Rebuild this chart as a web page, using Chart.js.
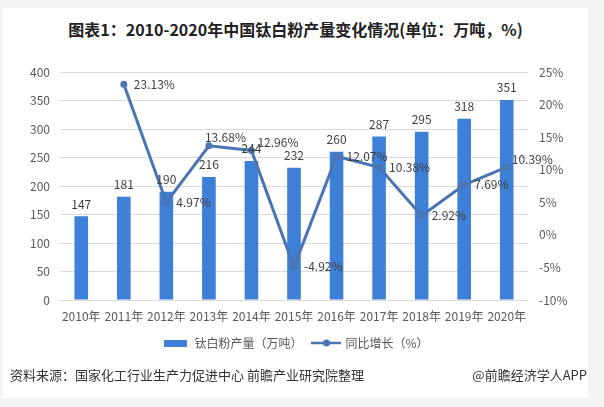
<!DOCTYPE html>
<html>
<head>
<meta charset="utf-8">
<script src="https://cdn.jsdelivr.net/npm/chart.js@4/dist/chart.umd.min.js"></script>
<style>
  html, body { margin: 0; padding: 0; background: #f4f4f4; width: 604px; height: 407px; overflow: hidden; }
  #card { position: absolute; left: 3px; top: 8px; width: 585px; height: 390px; background: #ffffff; }
  #title { position: absolute; left: 3px; width: 585px; top: 18px; text-align: center;
    font-family: "Noto Sans CJK SC", sans-serif; font-weight: bold; font-size: 16px; color: #222; line-height: 22px; white-space: nowrap; }
  #wrap { position: absolute; left: 0; top: 0; width: 604px; height: 407px; }
  .src { position: absolute; top: 366px; font-family: "Noto Sans CJK SC", sans-serif; font-size: 13px; color: #333; line-height: 18px; white-space: nowrap; }
</style>
</head>
<body>
<div id="card"></div>
<div id="title">图表1：2010-2020年中国钛白粉产量变化情况(单位：万吨，%)</div>
<div id="wrap"><canvas id="c" width="604" height="407"></canvas></div>
<div class="src" style="left:10px;">资料来源：国家化工行业生产力促进中心 前瞻产业研究院整理</div>
<div class="src" style="right:17px;">@前瞻经济学人APP</div>
<script>
const categories = ['2010年','2011年','2012年','2013年','2014年','2015年','2016年','2017年','2018年','2019年','2020年'];
const output = [147, 181, 190, 216, 244, 232, 260, 287, 295, 318, 351];
const growth = [null, 23.13, 4.97, 13.68, 12.96, -4.92, 12.07, 10.38, 2.92, 7.69, 10.39];
const seriesNames = ['钛白粉产量（万吨）', '同比增长（%）'];

const BAR = '#3e7fd7';
const LINE = '#4a74b2';
const FONT = '"Noto Sans CJK SC", sans-serif';

// label offsets for the growth labels (style only)
const lineLabelStyle = { default: { dx: 10, dy: 0 }, 3: { dx: -4, dy: -8 }, 4: { dx: 6, dy: -8 }, 10: { dx: 5, dy: -8 } };

function makeSwatch(kind) {
  const cv = document.createElement('canvas');
  if (kind === 'bar') {
    cv.width = 23; cv.height = 7;
    const x = cv.getContext('2d');
    x.fillStyle = BAR; x.fillRect(0, 0, 23, 7);
  } else {
    cv.width = 30; cv.height = 8;
    const x = cv.getContext('2d');
    x.strokeStyle = LINE; x.lineWidth = 2.5;
    x.beginPath(); x.moveTo(0, 4); x.lineTo(30, 4); x.stroke();
    x.fillStyle = LINE; x.beginPath(); x.arc(15, 4, 3.5, 0, Math.PI * 2); x.fill();
  }
  return cv;
}
const swatches = [makeSwatch('bar'), makeSwatch('line')];

const dataLabels = {
  id: 'dataLabels',
  afterDatasetsDraw(chart) {
    const ctx = chart.ctx;
    ctx.save();
    ctx.font = '12px ' + FONT;
    ctx.fillStyle = '#404040';
    ctx.textBaseline = 'middle';
    const barMeta = chart.getDatasetMeta(0);
    ctx.textAlign = 'center';
    barMeta.data.forEach((el, i) => {
      ctx.fillText(String(output[i]), el.x, el.y - 12);
    });
    const lineMeta = chart.getDatasetMeta(1);
    ctx.textAlign = 'left';
    lineMeta.data.forEach((el, i) => {
      if (growth[i] === null) return;
      const s = lineLabelStyle[i] || lineLabelStyle.default;
      ctx.fillText(growth[i].toFixed(2) + '%', el.x + s.dx, el.y + s.dy);
    });
    ctx.restore();
  }
};

new Chart(document.getElementById('c'), {
  data: {
    labels: categories,
    datasets: [
      {
        type: 'bar', label: seriesNames[0], data: output, yAxisID: 'y',
        backgroundColor: BAR, barPercentage: 0.32, categoryPercentage: 1, order: 2
      },
      {
        type: 'line', label: seriesNames[1], data: growth, yAxisID: 'y1',
        borderColor: LINE, backgroundColor: LINE, borderWidth: 3, tension: 0,
        pointRadius: 3.5, pointBackgroundColor: LINE, pointBorderWidth: 0, order: 1
      }
    ]
  },
  options: {
    responsive: false,
    animation: false,
    devicePixelRatio: 1,
    layout: { padding: { left: 3, right: 16, top: 72, bottom: 48 } },
    plugins: {
      title: { display: false },
      tooltip: { enabled: false },
      legend: {
        position: 'bottom',
        labels: {
          usePointStyle: true,
          pointStyleWidth: 26,
          boxHeight: 8,
          padding: 11,
          color: '#595959',
          font: { family: FONT, size: 12 },
          sort: (a, b) => a.datasetIndex - b.datasetIndex,
          generateLabels(chart) {
            const items = Chart.defaults.plugins.legend.labels.generateLabels(chart);
            items.forEach(it => { it.pointStyle = swatches[it.datasetIndex]; });
            return items;
          }
        }
      }
    },
    scales: {
      x: {
        grid: { display: false, drawTicks: false },
        border: { display: false },
        ticks: { color: '#595959', font: { family: FONT, size: 12 }, padding: 9, maxRotation: 0, autoSkip: false },
        afterFit(s) { s.height = 26; }
      },
      y: {
        position: 'left', min: 0, max: 400,
        grid: { color: '#d9d9d9', drawTicks: false },
        border: { display: false },
        ticks: { stepSize: 50, color: '#595959', font: { family: FONT, size: 12 }, padding: 10 },
        afterFit(s) { s.width = 57; }
      },
      y1: {
        position: 'right', min: -10, max: 25,
        grid: { display: false, drawTicks: false },
        border: { display: false },
        ticks: { stepSize: 5, color: '#595959', font: { family: FONT, size: 12 }, padding: 11,
          callback: v => v + '%' },
        afterFit(s) { s.width = 60; }
      }
    }
  },
  plugins: [dataLabels]
});
</script>
</body>
</html>
